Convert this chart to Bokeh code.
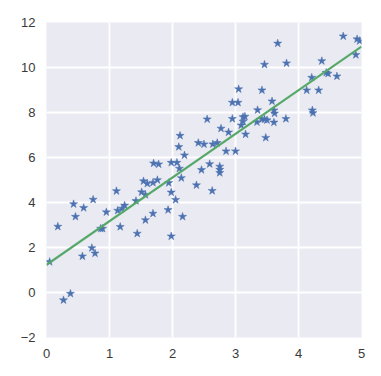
from bokeh.plotting import figure
from bokeh.models import Range1d, FixedTicker, ColumnDataSource
from bokeh.embed import file_html
from bokeh.resources import INLINE

x_vals = [0.05, 0.18, 0.27, 0.38, 0.43, 0.46, 0.57, 0.59, 0.74, 0.72,
          0.77, 0.86, 0.89, 0.95, 1.11, 1.13, 1.17, 1.20, 1.24, 1.42,
          1.44, 1.51, 1.54, 1.57, 1.57, 1.60, 1.69, 1.69, 1.70, 1.76,
          1.78, 1.93, 1.94, 1.98, 1.98, 1.98, 2.05, 2.07, 2.10, 2.11,
          2.12, 2.14, 2.16, 2.19, 2.38, 2.41, 2.46, 2.50, 2.55, 2.59,
          2.63, 2.64, 2.71, 2.75, 2.75, 2.75, 2.77, 2.85, 2.89, 2.95,
          2.95, 3.00, 3.04, 3.05, 3.09, 3.12, 3.12, 3.15, 3.16, 3.34,
          3.35, 3.42, 3.42, 3.46, 3.46, 3.48, 3.50, 3.58, 3.61, 3.62,
          3.61, 3.67, 3.80, 3.81, 4.13, 4.21, 4.22, 4.23, 4.32, 4.37,
          4.44, 4.47, 4.61, 4.71, 4.91, 4.93, 4.97]
y_vals = [1.36, 2.93, -0.34, -0.05, 3.93, 3.37, 1.61, 3.76, 4.13, 1.98,
          1.74, 2.84, 2.84, 3.57, 4.51, 3.64, 2.92, 3.73, 3.87, 4.07,
          2.62, 4.46, 4.95, 4.34, 3.22, 4.84, 4.88, 3.51, 5.74, 5.00,
          5.70, 3.67, 4.87, 5.77, 4.45, 2.50, 4.12, 5.77, 6.47, 5.51,
          6.97, 5.09, 3.37, 6.10, 4.77, 6.65, 5.45, 6.59, 7.70, 5.71,
          4.52, 6.59, 6.65, 5.60, 5.46, 5.32, 7.29, 6.28, 7.12, 8.44,
          7.72, 6.28, 8.44, 9.04, 7.43, 7.80, 7.60, 7.82, 7.03, 7.57,
          8.11, 8.99, 7.70, 10.13, 7.70, 6.88, 7.66, 8.50, 8.10, 7.96,
          7.56, 11.07, 7.72, 10.19, 8.99, 9.55, 8.10, 7.98, 8.99, 10.29,
          9.77, 9.73, 9.61, 11.39, 10.56, 11.26, 11.18]

fit_x = [0.0, 5.0]
fit_y = [1.23, 10.93]

x_ticks = [0, 1, 2, 3, 4, 5]
y_ticks = [-2, 0, 2, 4, 6, 8, 10, 12]

p = figure(output_backend="svg", toolbar_location=None,
           frame_width=315, frame_height=315,
           x_range=Range1d(0, 5), y_range=Range1d(-2, 12),
           min_border_left=46, min_border_right=12,
           min_border_top=22, min_border_bottom=31)

p.background_fill_color = "#EAEAF2"
p.border_fill_color = "white"
p.outline_line_color = None

for ax in (p.xaxis, p.yaxis):
    ax.axis_line_color = None
    ax.major_tick_line_color = None
    ax.minor_tick_line_color = None
    ax.major_tick_out = 0
    ax.major_tick_in = 0
    ax.major_label_text_font = "Liberation Sans"
    ax.major_label_text_font_size = "13px"
    ax.major_label_text_color = "#3a3a3a"
    ax.major_label_standoff = 11

p.xaxis.ticker = FixedTicker(ticks=x_ticks)
p.yaxis.ticker = FixedTicker(ticks=y_ticks)

p.grid.grid_line_color = "white"
p.grid.grid_line_width = 1.8

src = ColumnDataSource(dict(x=x_vals, y=y_vals))
p.scatter("x", "y", source=src, marker="star", size=8.5,
          fill_color="#4C72B0", line_color="#4C72B0", line_width=0.5)

p.line(fit_x, fit_y, line_color="#55A868", line_width=2.2)

open("out.html", "w").write(file_html(p, INLINE))
